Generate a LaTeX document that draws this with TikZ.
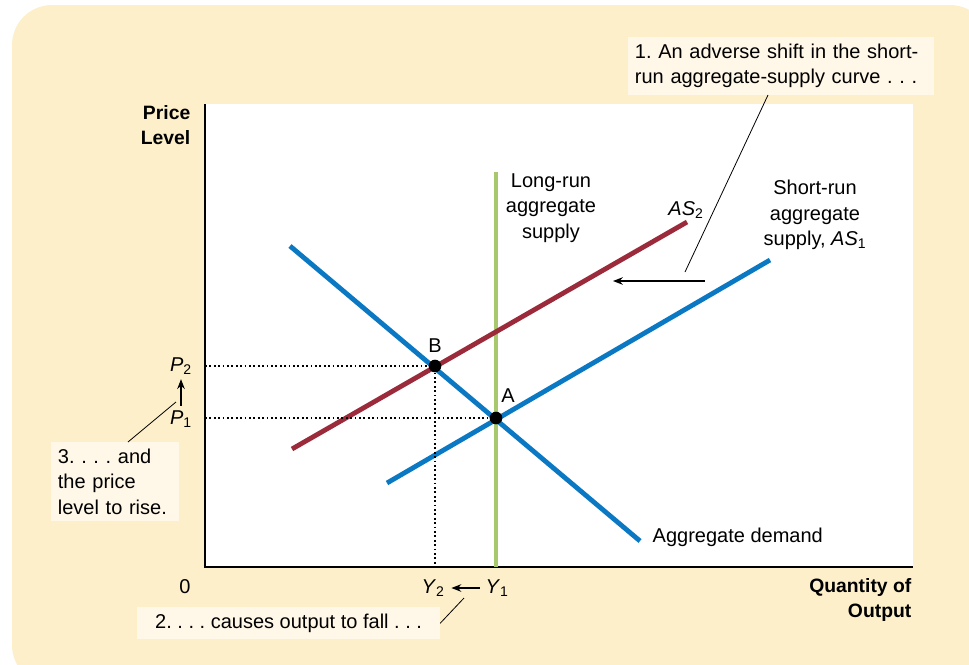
\documentclass[tikz,border=0pt]{standalone}
\usepackage{fontspec}
\setmainfont{Liberation Sans}
\usepackage{tikz}
\usetikzlibrary{arrows.meta,positioning,calc}
\definecolor{panelbg}{HTML}{FCEFCA}
\definecolor{notebg}{HTML}{FFF8E8}
\definecolor{curveblue}{HTML}{0A78C2}
\definecolor{curvered}{HTML}{9B2B3B}
\definecolor{curvegreen}{HTML}{A8C86E}
\newcommand{\varlab}[2]{\textit{#1}\textsubscript{#2}}
\frenchspacing
\tikzset{
  curveline/.style={line width=3.6pt},
  notebox/.style={fill=notebg,align=left,inner sep=5pt,font=\fontsize{15}{19}\selectfont},
  curvelabel/.style={align=center,font=\fontsize{15}{19}\selectfont},
  axislabel/.style={font=\fontsize{14.5}{19}\selectfont\bfseries},
  guideline/.style={dotted,line width=1.3pt},
  pointer/.style={line width=0.6pt},
  shiftarrow/.style={-{Stealth[length=2.6mm,width=2mm]},line width=0.9pt},
  eqdot/.style={circle,fill=black,inner sep=0pt,minimum size=9.5pt}
}
\begin{document}
\begin{tikzpicture}[x=0.75pt,y=-0.75pt]
  \useasboundingbox (0,0) rectangle (969,664);
  % panel and plot area
  \fill[panelbg,rounded corners=30pt] (12,5) rectangle (990,685);
  \fill[white] (205,104) rectangle (913,567);
  \draw[line width=1pt] (205,104) -- (205,567) -- (913,567);
  % curves
  \coordinate (lrtop) at (496,172);
  \coordinate (lrbot) at (496,567);
  \coordinate (astwolo) at (292,449);
  \coordinate (astwohi) at (687,222);
  \coordinate (asonelo) at (387,483);
  \coordinate (asonehi) at (770,260);
  \coordinate (adhi) at (290,246);
  \coordinate (adlo) at (640,541);
  \draw[curveline,curvegreen] (lrtop) -- (lrbot);
  \draw[curveline,curvered] (astwolo) -- (astwohi);
  \draw[curveline,curveblue] (asonelo) -- (asonehi);
  \draw[curveline,curveblue] (adhi) -- (adlo);
  % equilibria
  \node[eqdot] (ptB) at (435,366) {};
  \node[eqdot] (ptA) at (496,418) {};
  \node[curvelabel,above=2pt of ptB] {B};
  \node[curvelabel] at (508,396) {A};
  % axis marks
  \node[curvelabel] (ptwo) at (181,366) {\varlab{P}{2}};
  \node[curvelabel] (pone) at (181,419) {\varlab{P}{1}};
  \node[curvelabel] (zero) at (185,587) {0};
  \node[curvelabel,inner sep=1pt] (ytwo) at (433,588) {\varlab{Y}{2}};
  \node[curvelabel,inner sep=1pt] (yone) at (497,588) {\varlab{Y}{1}};
  \draw[guideline] (205,366) -- (ptB) -- (435,567);
  \draw[guideline] (205,418) -- (ptA);
  \draw[shiftarrow] (pone.north) -- (ptwo.south);
  \draw[shiftarrow] ([xshift=-3pt]yone.west) -- ([xshift=4pt]ytwo.east);
  % curve labels
  \node[curvelabel] (lrlabel) at (551,208) {Long-run\\aggregate\\supply};
  \node[curvelabel] (astwolabel) at (686,210) {\varlab{AS}{2}};
  \node[curvelabel] (asonelabel) at (815,215) {Short-run\\aggregate\\supply, \varlab{AS}{1}};
  \node[curvelabel,anchor=west] (adlabel) at (648,537) {Aggregate demand};
  \node[axislabel,align=right,anchor=east] (ylabel) at (195,125) {Price\\Level};
  \node[axislabel,align=right,anchor=east] (xlabel) at (916,600) {Quantity of\\Output};
  % shift arrow
  \coordinate (shiftstart) at (705,281);
  \coordinate (shiftend) at (613,281);
  \draw[shiftarrow] (shiftstart) -- (shiftend);
  % notes
  \node[notebox,anchor=north west,text width=219pt] (noteone) at (628,37) {1. An adverse shift in the short-\\run aggregate-supply curve . . .};
  \node[notebox,anchor=north west,text width=86pt] (notethree) at (51,442) {3. . . . and\\the price\\level to rise.};
  \node[notebox,anchor=north west,minimum width=227pt] (notetwo) at (137,607) {2. . . . causes output to fall . . .};
  \coordinate (onetip) at (685,272);
  \coordinate (threetip) at (176,402);
  \coordinate (twotip) at (464,598);
  \draw[pointer] (768,95) -- (onetip);
  \draw[pointer] (128,442) -- (threetip);
  \draw[pointer] (notetwo.east) -- (twotip);
\end{tikzpicture}
\end{document}
